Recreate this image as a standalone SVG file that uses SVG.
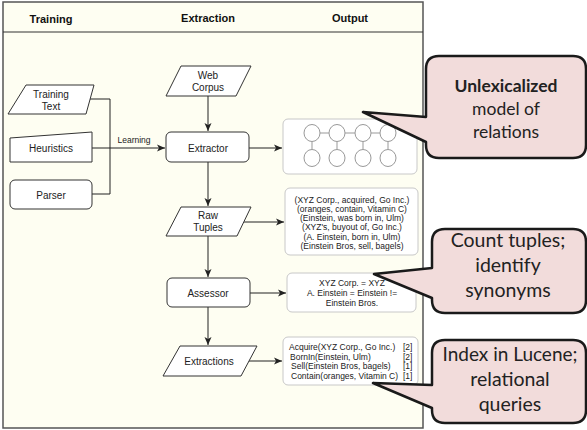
<svg xmlns="http://www.w3.org/2000/svg" width="587" height="430" viewBox="0 0 587 430">
<defs>
<marker id="arr" markerWidth="10" markerHeight="10" refX="8" refY="4" orient="auto" markerUnits="userSpaceOnUse">
<path d="M0,0.5 L8,4 L0,7.5 L2,4 Z" fill="#222"/>
</marker>
<style>
.node{fill:#fff;stroke:#333;stroke-width:1}
.lbl{font-family:"Liberation Sans",Arial,sans-serif;font-size:10px;fill:#222;text-anchor:middle}
.hdr{font-family:"Liberation Sans",Arial,sans-serif;font-size:11px;font-weight:bold;fill:#111;text-anchor:middle}
.small{font-family:"Liberation Sans",Arial,sans-serif;font-size:8.5px;fill:#222}
.out{fill:#fff;stroke:#c8c8c8;stroke-width:1}
.conn{fill:none;stroke:#222;stroke-width:1}
.call{fill:#f2dcdb;stroke:#1a1a1a;stroke-width:2.5;stroke-linejoin:round}
.ct{font-family:Lato,"Liberation Sans",sans-serif;fill:#222;text-anchor:middle}
.circ{fill:#fff;stroke:#999;stroke-width:1}
</style>
</defs>
<rect x="0" y="0" width="587" height="430" fill="#fff"/>
<g id="frame">
<rect x="3" y="2" width="420" height="426" fill="#fefef2" stroke="#555" stroke-width="1.5"/>
<line x1="3" y1="32" x2="423" y2="32" stroke="#333" stroke-width="1"/>
<text class="hdr" x="51" y="22.5">Training</text>
<text class="hdr" x="208" y="22">Extraction</text>
<text class="hdr" x="350" y="21.5">Output</text>
</g>
<g id="connectors">
<polyline class="conn" points="90,99 110,99 110,194 92,194"/>
<line class="conn" x1="92" y1="148" x2="165" y2="148" marker-end="url(#arr)"/>
<text class="small" x="134" y="143" text-anchor="middle" font-size="8px">Learning</text>
<line class="conn" x1="208" y1="96" x2="208" y2="131" marker-end="url(#arr)"/>
<line class="conn" x1="249" y1="148" x2="282" y2="148" marker-end="url(#arr)"/>
<line class="conn" x1="208" y1="162" x2="208" y2="206" marker-end="url(#arr)"/>
<line class="conn" x1="244" y1="222" x2="284" y2="222" marker-end="url(#arr)"/>
<line class="conn" x1="208" y1="236" x2="208" y2="277" marker-end="url(#arr)"/>
<line class="conn" x1="250" y1="293" x2="286" y2="293" marker-end="url(#arr)"/>
<line class="conn" x1="208" y1="307" x2="208" y2="345" marker-end="url(#arr)"/>
<line class="conn" x1="248" y1="361" x2="282" y2="361" marker-end="url(#arr)"/>
</g>
<g id="training-text">
<polygon class="node" points="26,85 94,85 86,114 8,114"/>
<text class="lbl" x="51" y="98">Training</text>
<text class="lbl" x="51" y="110">Text</text>
</g>
<g id="heuristics">
<polygon class="node" points="10,138 92,132 92,162 10,162"/>
<text class="lbl" x="51" y="152">Heuristics</text>
</g>
<g id="parser">
<rect class="node" x="10" y="180" width="82" height="29" rx="5"/>
<text class="lbl" x="51" y="198.5">Parser</text>
</g>
<g id="web-corpus">
<polygon class="node" points="181,66 251,66 236,96 166,96"/>
<text class="lbl" x="208" y="79">Web</text>
<text class="lbl" x="208" y="90.5">Corpus</text>
</g>
<g id="extractor">
<rect class="node" x="166" y="132" width="83" height="30" rx="5"/>
<text class="lbl" x="208" y="151.5">Extractor</text>
</g>
<g id="raw-tuples">
<polygon class="node" points="181,207 251,207 237,236 166,236"/>
<text class="lbl" x="208" y="219">Raw</text>
<text class="lbl" x="208" y="230.5">Tuples</text>
</g>
<g id="assessor">
<rect class="node" x="167" y="278" width="83" height="29" rx="5"/>
<text class="lbl" x="208" y="296.5">Assessor</text>
</g>
<g id="extractions">
<polygon class="node" points="180,346 257,346 241,376 163,376"/>
<text class="lbl" x="209" y="365">Extractions</text>
</g>
<g id="model-box">
<rect class="out" x="283" y="119" width="134" height="55" rx="5" fill="#fefef2"/>
<g stroke="#999" stroke-width="1">
<line x1="320" y1="133" x2="329" y2="133"/>
<line x1="345" y1="133" x2="355" y2="133"/>
<line x1="371" y1="133" x2="380" y2="133"/>
<line x1="312" y1="141.5" x2="312" y2="149.5"/>
<line x1="337" y1="141.5" x2="337" y2="149.5"/>
<line x1="363" y1="141.5" x2="363" y2="149.5"/>
<line x1="388" y1="141.5" x2="388" y2="149.5"/>
</g>
<ellipse class="circ" cx="312" cy="133" rx="8" ry="8.5"/>
<ellipse class="circ" cx="337" cy="133" rx="8" ry="8.5"/>
<ellipse class="circ" cx="363" cy="133" rx="8" ry="8.5"/>
<ellipse class="circ" cx="388" cy="133" rx="8" ry="8.5"/>
<ellipse class="circ" cx="312" cy="158" rx="8" ry="8.5"/>
<ellipse class="circ" cx="337" cy="158" rx="8" ry="8.5"/>
<ellipse class="circ" cx="363" cy="158" rx="8" ry="8.5"/>
<ellipse class="circ" cx="388" cy="158" rx="8" ry="8.5"/>
</g>
<g id="tuples-box">
<rect class="out" x="285" y="188" width="133" height="67" rx="5"/>
<g class="small" text-anchor="middle">
<text x="352" y="202.5">(XYZ Corp., acquired, Go Inc.)</text>
<text x="352" y="211.8">(oranges, contain, Vitamin C)</text>
<text x="352" y="221.1">(Einstein, was born in, Ulm)</text>
<text x="352" y="230.4">(XYZ's, buyout of, Go Inc.)</text>
<text x="352" y="239.7">(A. Einstein, born in, Ulm)</text>
<text x="352" y="249">(Einstein Bros, sell, bagels)</text>
</g>
</g>
<g id="synonyms-box">
<rect class="out" x="287" y="273" width="129" height="39" rx="5"/>
<g class="small" text-anchor="middle">
<text x="352" y="286">XYZ Corp. = XYZ</text>
<text x="352" y="296">A. Einstein = Einstein !=</text>
<text x="352" y="306">Einstein Bros.</text>
</g>
</g>
<g id="extractions-box">
<rect class="out" x="283" y="337" width="135" height="48" rx="5"/>
<g class="small">
<text x="289" y="350">Acquire(XYZ Corp., Go Inc.)</text>
<text x="290" y="359.5">BornIn(Einstein, Ulm)</text>
<text x="291" y="369">Sell(Einstein Bros, bagels)</text>
<text x="291" y="378.5">Contain(oranges, Vitamin C)</text>
<text x="403" y="350">[2]</text>
<text x="403" y="359.5">[2]</text>
<text x="403" y="369">[1]</text>
<text x="403" y="378.5">[1]</text>
</g>
</g>
<g id="callout-model">
<path class="call" d="M439,56 H573 Q586,56 586,69 V145 Q586,158 573,158 H439 Q426,158 426,145 V142 L363,112 L426,117 V69 Q426,56 439,56 Z"/>
<text class="ct" x="506" y="92" font-size="17.5" font-weight="bold">Unlexicalized</text>
<text class="ct" x="506" y="115" font-size="17.5">model of</text>
<text class="ct" x="506" y="138" font-size="17.5">relations</text>
</g>
<g id="callout-count">
<path class="call" d="M445,229 H573 Q586,229 586,242 V300 Q586,313 573,313 H445 Q432,313 432,300 V298 L374,274 L432,268 V242 Q432,229 445,229 Z"/>
<text class="ct" x="508" y="247" font-size="19.5">Count tuples;</text>
<text class="ct" x="508" y="272" font-size="19.5">identify</text>
<text class="ct" x="508" y="297" font-size="19.5">synonyms</text>
</g>
<g id="callout-index">
<path class="call" d="M445,340 H573 Q586,340 586,353 V410 Q586,423 573,423 H445 Q432,423 432,410 V408 L373,383 L432,385 V353 Q432,340 445,340 Z"/>
<text class="ct" x="510" y="361" font-size="19">Index in Lucene;</text>
<text class="ct" x="510" y="386" font-size="19.5">relational</text>
<text class="ct" x="510" y="411" font-size="19.5">queries</text>
</g>
</svg>
